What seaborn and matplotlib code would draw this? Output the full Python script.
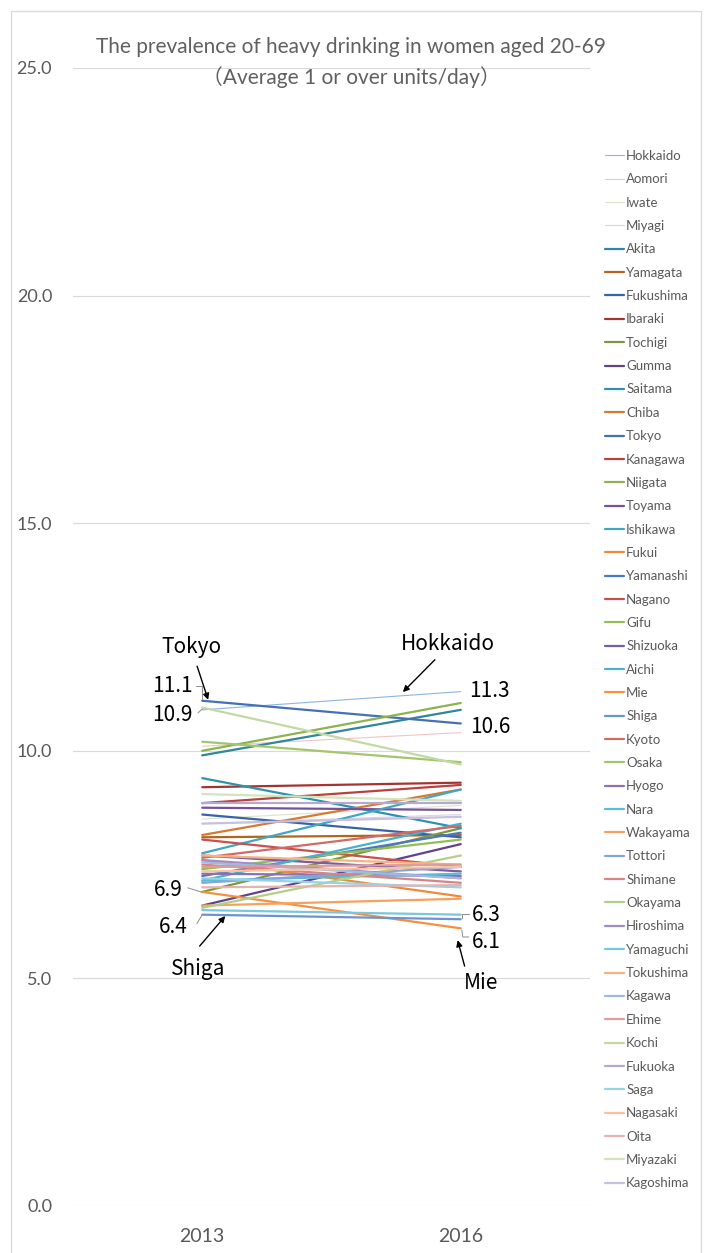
import matplotlib
matplotlib.use("Agg")
import matplotlib.pyplot as plt
import seaborn as sns
import pandas as pd
from matplotlib.patches import Rectangle
from matplotlib.lines import Line2D

# Share of women aged 20-69 drinking on average 1+ units/day (%), by prefecture
prefectures = [
    "Hokkaido", "Aomori", "Iwate", "Miyagi", "Akita", "Yamagata", "Fukushima",
    "Ibaraki", "Tochigi", "Gumma", "Saitama", "Chiba", "Tokyo", "Kanagawa",
    "Niigata", "Toyama", "Ishikawa", "Fukui", "Yamanashi", "Nagano", "Gifu",
    "Shizuoka", "Aichi", "Mie", "Shiga", "Kyoto", "Osaka", "Hyogo", "Nara",
    "Wakayama", "Tottori", "Shimane", "Okayama", "Hiroshima", "Yamaguchi",
    "Tokushima", "Kagawa", "Ehime", "Kochi", "Fukuoka", "Saga", "Nagasaki",
    "Oita", "Miyazaki", "Kagoshima",
]
rate_2013 = [
    10.9, 10.1, 8.5, 8.4, 9.9, 8.1, 8.6,
    9.2, 6.9, 6.6, 9.4, 8.15, 11.1, 8.85,
    10.0, 8.75, 7.75, 7.6, 7.25, 8.05, 7.4,
    7.7, 7.15, 6.9, 6.4, 7.65, 10.2, 7.3, 7.15,
    6.6, 7.1, 7.5, 6.55, 7.6, 6.5,
    7.7, 7.55, 7.45, 10.95, 8.85, 7.2, 7.35,
    7.0, 9.05, 8.4,
]
rate_2016 = [
    11.3, 10.4, 8.8, 8.6, 10.9, 8.15, 8.1,
    9.3, 8.3, 7.95, 8.3, 9.15, 10.6, 9.25,
    11.05, 8.7, 9.15, 6.8, 8.2, 7.45, 8.05,
    7.35, 8.4, 6.1, 6.3, 8.35, 9.75, 7.25, 7.3,
    6.75, 7.45, 7.1, 7.7, 7.2, 6.4,
    7.5, 7.2, 7.5, 9.7, 8.85, 7.0, 7.45,
    7.05, 8.9, 8.55,
]
years = ["2013", "2016"]
y_ticks = [0.0, 5.0, 10.0, 15.0, 20.0, 25.0]

line_colors = [
    "#8EB4E3", "#F2C4C4", "#DDE3C9", "#D9D3E6", "#31859C", "#B3651D", "#3A62A8",
    "#A33431", "#7A9A3A", "#61438A", "#2E93A8", "#D9792F", "#4670B5", "#B9413E",
    "#8CB34F", "#74529C", "#3FA7C2", "#F08A3A", "#4A79C0", "#C9504D", "#93BD55",
    "#7A5BA6", "#47B0CC", "#F6903E", "#6C93D1", "#CF6A67", "#A2C66C", "#8B71B3",
    "#5CBBD5", "#F8A15E", "#85A5DA", "#D58583", "#B2CF88", "#A08DC3", "#79C7DD",
    "#F9B27E", "#A0B8E2", "#DC9E9C", "#C3D9A4", "#B6A8D0", "#96D3E5", "#FAC39D",
    "#E3B4B2", "#D3E3BE", "#C8C0DD",
]
faint = {"Hokkaido", "Aomori", "Iwate", "Miyagi"}

records = []
for name, a, b in zip(prefectures, rate_2013, rate_2016):
    records.append({"prefecture": name, "pos": 0, "rate": a})
    records.append({"prefecture": name, "pos": 1, "rate": b})
df = pd.DataFrame(records)

sns.set_theme(style="white")
plt.rcParams["font.family"] = ["Lato", "Noto Sans CJK JP", "DejaVu Sans"]

W, H = 707, 1253
fig = plt.figure(figsize=(W / 100, H / 100), dpi=100)
fig.patch.set_facecolor("white")
ax = fig.add_axes([73 / W, 1 - 1206 / H, 517 / W, 1138 / H])

handles = []
for name, col in zip(prefectures, line_colors):
    lw = 0.8 if name in faint else 1.6
    sns.lineplot(data=df[df["prefecture"] == name], x="pos", y="rate",
                 color=col, lw=lw, ax=ax, legend=False)
    handles.append(Line2D([0], [0], color=col, lw=lw, label=name))

ax.set_xlim(-0.5, 1.5)
ax.set_ylim(0, 25)
ax.set_xticks([0, 1])
ax.set_xticklabels(years)
ax.set_yticks(y_ticks)
ax.set_yticklabels([f"{t:.1f}" for t in y_ticks])
ax.set_xlabel("")
ax.set_ylabel("")
for s in ax.spines.values():
    s.set_visible(False)
ax.grid(axis="y", color="#D9D9D9", lw=0.8)
ax.set_axisbelow(True)
ax.tick_params(axis="y", length=0, pad=15, labelsize=13, labelcolor="#595959")
ax.tick_params(axis="x", length=0, pad=16, labelsize=14, labelcolor="#595959")

fig.text(0.497, 1 - 47 / H, "The prevalence of heavy drinking in women aged 20-69",
         ha="center", va="center", fontsize=15, color="#606060")
fig.text(0.497, 1 - 77 / H, "（Average 1 or over units/day）",
         ha="center", va="center", fontsize=15, color="#606060")

# callout names with arrows
lab_font = ["Noto Sans CJK JP", "DejaVu Sans"]
arrow_kw = dict(arrowstyle="-|>", color="black", lw=1.0, mutation_scale=9,
                shrinkA=0, shrinkB=0)
callouts = [
    ("Tokyo", (-0.04, 12.28), (-0.02, 11.86), (0.023, 11.12)),
    ("Hokkaido", (0.95, 12.35), (0.9, 12.0), (0.776, 11.29)),
    ("Shiga", (-0.015, 5.2), (-0.01, 5.71), (0.089, 6.37)),
    ("Mie", (1.077, 4.9), (1.015, 5.27), (0.988, 5.84)),
]
for text, tpos, tail, tip in callouts:
    ax.text(*tpos, text, ha="center", va="center", fontsize=15,
            family=lab_font, color="black", clip_on=False)
    ax.annotate("", xy=tip, xytext=tail, arrowprops=arrow_kw, annotation_clip=False)

# value labels with leader lines
value_labels = [
    ("11.1", (-0.037, 11.42), "right", ([-0.025, -0.002, -0.002], [11.42, 11.42, 11.13])),
    ("10.9", (-0.037, 10.79), "right", ([-0.017, 0.0], [10.83, 10.92])),
    ("6.9", (-0.075, 6.94), "right", ([-0.056, 0.0], [6.99, 6.89])),
    ("6.4", (-0.056, 6.13), "right", ([-0.021, 0.0], [6.20, 6.40])),
    ("11.3", (1.031, 11.31), "left", None),
    ("10.6", (1.035, 10.52), "left", None),
    ("6.3", (1.043, 6.39), "left", ([1.004, 1.004, 1.031], [6.33, 6.41, 6.41])),
    ("6.1", (1.043, 5.80), "left", ([1.004, 1.008, 1.031], [6.06, 5.91, 5.91])),
]
for text, pos, ha, leader in value_labels:
    ax.text(*pos, text, ha=ha, va="center", fontsize=15, family=lab_font,
            color="black", clip_on=False)
    if leader is not None:
        ax.plot(leader[0], leader[1], color="#8C8C8C", lw=0.7, clip_on=False)

leg = fig.legend(handles=handles, loc="upper left",
                 bbox_to_anchor=(605 / W, 1 - 150 / H), frameon=False,
                 fontsize=9.5, handlelength=1.45, handletextpad=0.15,
                 labelspacing=0.86, borderpad=0, borderaxespad=0)
for t in leg.get_texts():
    t.set_color("#595959")

# chart area border
fig.add_artist(Rectangle((11 / W, -0.01), 690 / W, 1 - 11 / H + 0.01,
                         transform=fig.transFigure, fill=False,
                         edgecolor="#D9D9D9", lw=0.9))

fig.savefig("out.png", dpi=100, facecolor="white")
